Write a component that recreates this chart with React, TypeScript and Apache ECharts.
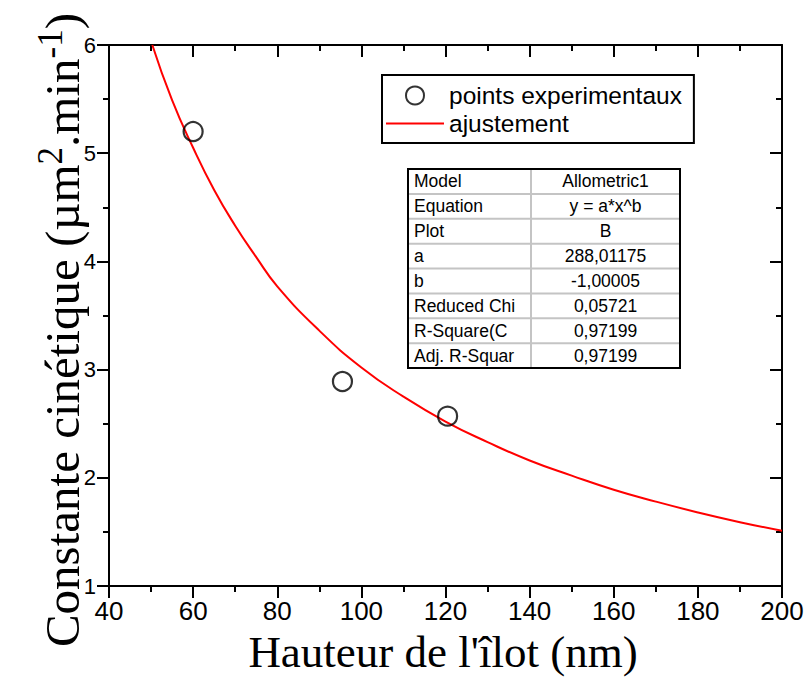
import React, { useEffect, useRef } from 'react';
import * as echarts from 'echarts';

// Experimental points (Hauteur de l'îlot, nm ; Constante cinétique)
const expX = [60, 95.5, 120.5];
const expY = [5.2, 2.89, 2.57];

// Fitted curve
const fitX = [50.3, 55, 60, 65, 70, 75, 80, 90, 100, 110, 120, 130, 140, 150, 160, 170, 180, 190, 200];
const fitY = [6.0, 5.49, 5.05, 4.66, 4.33, 4.04, 3.77, 3.36, 3.02, 2.75, 2.52, 2.33, 2.16, 2.02, 1.89, 1.78, 1.68, 1.59, 1.51];

const seriesNames = ['points experimentaux', 'ajustement'];

const tableLabels = ['Model', 'Equation', 'Plot', 'a', 'b', 'Reduced Chi', 'R-Square(C', 'Adj. R-Squar'];
const tableValues = ['Allometric1', 'y = a*x^b', 'B', '288,01175', '-1,00005', '0,05721', '0,97199', '0,97199'];

const xTitle = "Hauteur de l'îlot (nm)";

const SANS = "'Liberation Sans', Arial, sans-serif";
const SERIF = "'Liberation Serif', 'Times New Roman', serif";

export default function App() {
  const ref = useRef<HTMLDivElement>(null);

  useEffect(() => {
    if (!ref.current) return;
    const chart = echarts.init(ref.current, undefined, { renderer: 'svg' });

    const axisLine = { show: true, onZero: false, lineStyle: { color: '#000', width: 2 } };
    const tickStyle = { color: '#000', width: 2 };

    // table geometry
    const tX = 408, tY = 169, tW = 272, tH = 199, colX = 531;
    const rowH = tH / tableLabels.length;
    const tableEls: any[] = [];
    tableEls.push({
      type: 'rect',
      shape: { x: tX, y: tY, width: tW, height: tH },
      style: { fill: '#fff', stroke: 'none' },
      z: 100,
    });
    for (let i = 1; i < tableLabels.length; i++) {
      tableEls.push({
        type: 'line',
        shape: { x1: tX + 1, y1: tY + i * rowH, x2: tX + tW - 1, y2: tY + i * rowH },
        style: { stroke: '#c4c4c4', lineWidth: 2 },
        z: 101,
      });
    }
    tableEls.push({
      type: 'line',
      shape: { x1: colX, y1: tY + 1, x2: colX, y2: tY + tH - 1 },
      style: { stroke: '#c4c4c4', lineWidth: 2 },
      z: 101,
    });
    tableEls.push({
      type: 'rect',
      shape: { x: tX, y: tY, width: tW, height: tH },
      style: { fill: 'none', stroke: '#000', lineWidth: 2 },
      z: 102,
    });
    tableLabels.forEach((lab, i) => {
      tableEls.push({
        type: 'text',
        x: tX + 6,
        y: tY + (i + 0.5) * rowH,
        style: { text: lab, fontSize: 17.5, fontFamily: SANS, fill: '#000', align: 'left', verticalAlign: 'middle' },
        z: 103,
      });
      tableEls.push({
        type: 'text',
        x: (colX + tX + tW) / 2,
        y: tY + (i + 0.5) * rowH,
        style: { text: tableValues[i], fontSize: 17.5, fontFamily: SANS, fill: '#000', align: 'center', verticalAlign: 'middle' },
        z: 103,
      });
    });

    const option: any = {
      animation: false,
      backgroundColor: '#fff',
      grid: { left: 109, right: 28, top: 45, bottom: 95, containLabel: false },
      legend: {
        orient: 'vertical',
        left: 382,
        top: 75,
        itemWidth: 58,
        itemHeight: 18,
        itemGap: 3,
        padding: [8, 12, 7, 3],
        borderColor: '#000',
        borderWidth: 2,
        borderRadius: 0,
        backgroundColor: '#fff',
        textStyle: { fontSize: 24.5, color: '#000', fontFamily: SANS },
        data: seriesNames,
      },
      xAxis: [
        {
          type: 'value',
          min: 40,
          max: 200,
          interval: 20,
          position: 'bottom',
          axisLine,
          axisTick: { show: true, inside: false, length: 12, lineStyle: tickStyle },
          minorTick: { show: true, splitNumber: 2, length: 6, lineStyle: tickStyle },
          splitLine: { show: false },
          minorSplitLine: { show: false },
          axisLabel: { fontSize: 26, color: '#000', fontFamily: SANS, margin: 12 },
        },
        {
          type: 'value',
          min: 40,
          max: 200,
          interval: 20,
          position: 'top',
          axisLine,
          axisTick: { show: true, inside: true, length: 12, lineStyle: tickStyle },
          minorTick: { show: true, splitNumber: 2, length: 6, lineStyle: tickStyle },
          splitLine: { show: false },
          axisLabel: { show: false },
        },
      ],
      yAxis: [
        {
          type: 'value',
          min: 1,
          max: 6,
          interval: 1,
          position: 'left',
          axisLine,
          axisTick: { show: true, inside: false, length: 12, lineStyle: tickStyle },
          minorTick: { show: true, splitNumber: 2, length: 6, lineStyle: tickStyle },
          splitLine: { show: false },
          minorSplitLine: { show: false },
          axisLabel: { fontSize: 22, color: '#000', fontFamily: SANS, margin: 13 },
        },
        {
          type: 'value',
          min: 1,
          max: 6,
          interval: 1,
          position: 'right',
          axisLine,
          axisTick: { show: true, inside: true, length: 12, lineStyle: tickStyle },
          minorTick: { show: true, splitNumber: 2, length: 6, lineStyle: tickStyle },
          splitLine: { show: false },
          axisLabel: { show: false },
        },
      ],
      series: [
        {
          name: seriesNames[0],
          type: 'scatter',
          xAxisIndex: 0,
          yAxisIndex: 0,
          symbol: 'circle',
          symbolSize: 19,
          itemStyle: { color: 'rgba(255,255,255,0)', borderColor: '#000', borderWidth: 2.2 },
          data: expX.map((x, i) => [x, expY[i]]),
          z: 5,
        },
        {
          name: seriesNames[1],
          type: 'line',
          xAxisIndex: 0,
          yAxisIndex: 0,
          smooth: true,
          symbol: 'none',
          clip: true,
          lineStyle: { color: '#ff0000', width: 2 },
          itemStyle: { color: 'rgba(0,0,0,0)', borderWidth: 0 },
          data: fitX.map((x, i) => [x, fitY[i]]),
          z: 4,
        },
      ],
      graphic: [
        ...tableEls,
        {
          type: 'text',
          x: 62,
          y: 330,
          rotation: Math.PI / 2,
          style: {
            text: '{m|Constante cinétique (µm}{s|2}{m|.min}{s|-1}{m|)}',
            align: 'center',
            verticalAlign: 'middle',
            rich: {
              m: { fontSize: 49, fontFamily: SERIF, fill: '#000', lineHeight: 58, verticalAlign: 'middle' },
              s: { fontSize: 35, fontFamily: SERIF, fill: '#000', lineHeight: 32, verticalAlign: 'top' },
            },
          },
        },
        {
          type: 'text',
          x: 443,
          y: 652,
          style: {
            text: xTitle,
            fontSize: 45,
            fontFamily: SERIF,
            fill: '#000',
            align: 'center',
            verticalAlign: 'middle',
          },
        },
      ],
    };

    chart.setOption(option);
    return () => chart.dispose();
  }, []);

  return (
    <div
      ref={ref}
      style={{ position: 'fixed', left: 0, top: 0, width: 810, height: 681, background: '#fff' }}
    />
  );
}
